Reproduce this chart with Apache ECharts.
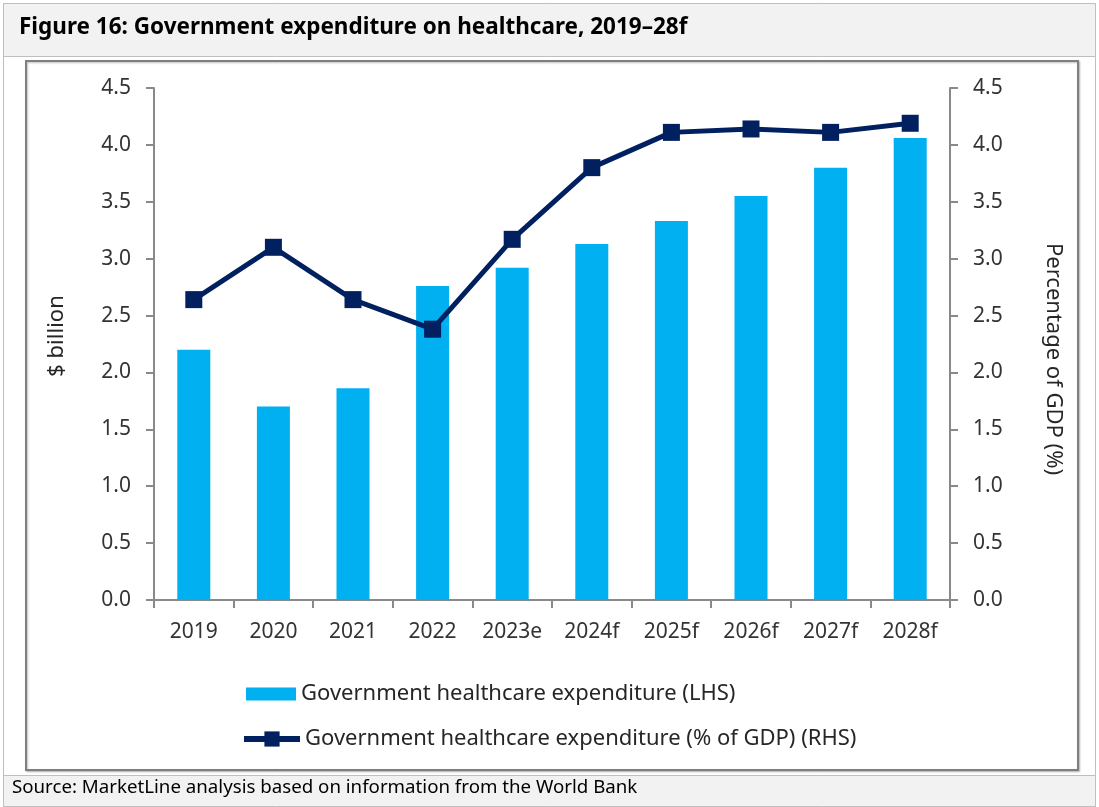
<!DOCTYPE html>
<html>
<head>
<meta charset="utf-8">
<script src="https://cdn.jsdelivr.net/npm/echarts@6/dist/echarts.min.js"></script>
<style>
  html, body { margin: 0; padding: 0; background: #ffffff; }
  #chart { width: 1099px; height: 807px; }
</style>
</head>
<body>
<div id="chart"></div>
<script>
// Government healthcare spending, $ billion (left axis)
const categories = ['2019', '2020', '2021', '2022', '2023e', '2024f', '2025f', '2026f', '2027f', '2028f'];
const spendBillion = [2.20, 1.70, 1.86, 2.76, 2.92, 3.13, 3.33, 3.55, 3.80, 4.06];
// Same spending as a share of GDP, % (right axis)
const spendPctGdp = [2.64, 3.10, 2.64, 2.38, 3.17, 3.80, 4.11, 4.14, 4.11, 4.19];
const axisTicks = [0, 4.5, 0.5]; // min, max, step shared by both value axes

const barName = 'Government healthcare expenditure (LHS)';
const lineName = 'Government healthcare expenditure (% of GDP) (RHS)';
const titleText = 'Figure 16: Government expenditure on healthcare, 2019\u201328f';
const sourceText = 'Source: MarketLine analysis based on information from the World Bank';

const FONT = 'Noto Sans';
const AXIS_GREY = '#898989';
const LABEL = '#333333';
const NAVY = '#002060';
const CYAN = '#00b0f0';

const chart = echarts.init(document.getElementById('chart'), null, { renderer: 'canvas' });

// namePadding nudges the rotated axis title along the axis
const valueAxis = (name, pos, nameRotate, nameGap, namePadding) => ({
  type: 'value',
  position: pos,
  min: axisTicks[0],
  max: axisTicks[1],
  interval: axisTicks[2],
  name: name,
  nameLocation: 'middle',
  nameRotate: nameRotate,
  nameGap: nameGap,
  nameTextStyle: { fontFamily: FONT, fontSize: 22, color: '#262626', padding: namePadding },
  axisLine: { show: true, lineStyle: { color: AXIS_GREY, width: 2 } },
  axisTick: { show: true, length: 8, lineStyle: { color: AXIS_GREY, width: 2 } },
  splitLine: { show: false },
  axisLabel: {
    fontFamily: FONT, fontSize: 21, color: LABEL, margin: 23,
    formatter: v => v.toFixed(1)
  }
});

const legendText = { fontFamily: FONT, fontSize: 22, color: '#262626', lineHeight: 26 };

chart.setOption({
  animation: false,
  backgroundColor: '#ffffff',
  grid: { left: 154, right: 149, top: 88, bottom: 207, containLabel: false },
  graphic: [
    // outer border
    { type: 'rect', z: -10, shape: { x: 3.5, y: 3.5, width: 1092, height: 803 },
      style: { fill: '#ffffff', stroke: '#bfbfbf', lineWidth: 1 } },
    // title band
    { type: 'rect', z: -9, shape: { x: 3.5, y: 3.5, width: 1092, height: 53 },
      style: { fill: '#f2f2f2', stroke: '#bfbfbf', lineWidth: 1 } },
    // source band
    { type: 'rect', z: -9, shape: { x: 3.5, y: 775.5, width: 1092, height: 31 },
      style: { fill: '#f2f2f2', stroke: '#bfbfbf', lineWidth: 1 } },
    // chart frame
    { type: 'rect', z: -8, shape: { x: 26, y: 61, width: 1052, height: 709 },
      style: { fill: '#ffffff', stroke: '#7f7f7f', lineWidth: 2,
               shadowColor: 'rgba(0,0,0,0.25)', shadowBlur: 2, shadowOffsetX: 1, shadowOffsetY: 1 } },
    { type: 'text', z: 10, left: 19, top: 16,
      style: { text: titleText, fontFamily: FONT, fontWeight: 'bold', fontSize: 22.5, fill: '#000000' } },
    { type: 'text', z: 10, left: 12, top: 778,
      style: { text: sourceText, fontFamily: FONT, fontSize: 18.7, fill: '#000000' } }
  ],
  legend: [
    {
      left: 241, top: 676,
      itemWidth: 50, itemHeight: 13,
      textStyle: legendText,
      data: [{ name: barName, icon: 'rect' }]
    },
    {
      left: 236, top: 721,
      itemWidth: 56, itemHeight: 19,
      textStyle: legendText,
      lineStyle: { width: 6 },
      data: [{ name: lineName }]
    }
  ],
  xAxis: {
    type: 'category',
    data: categories,
    boundaryGap: true,
    axisLine: { show: true, lineStyle: { color: AXIS_GREY, width: 2 } },
    axisTick: { show: true, length: 8, lineStyle: { color: AXIS_GREY, width: 2 } },
    axisLabel: { fontFamily: FONT, fontSize: 21, color: LABEL, margin: 22, interval: 0 }
  },
  yAxis: [
    valueAxis('$ billion', 'left', 90, 86, [0, 0, 0, 16]),
    valueAxis('Percentage of GDP (%)', 'right', -90, 92, [0, 0, 0, 30])
  ],
  series: [
    {
      name: barName,
      type: 'bar',
      yAxisIndex: 0,
      data: spendBillion,
      barWidth: 33,
      itemStyle: { color: CYAN }
    },
    {
      name: lineName,
      type: 'line',
      yAxisIndex: 1,
      data: spendPctGdp,
      symbol: 'rect',
      symbolSize: 17,
      lineStyle: { color: NAVY, width: 5 },
      itemStyle: { color: NAVY }
    }
  ]
});
</script>
</body>
</html>
